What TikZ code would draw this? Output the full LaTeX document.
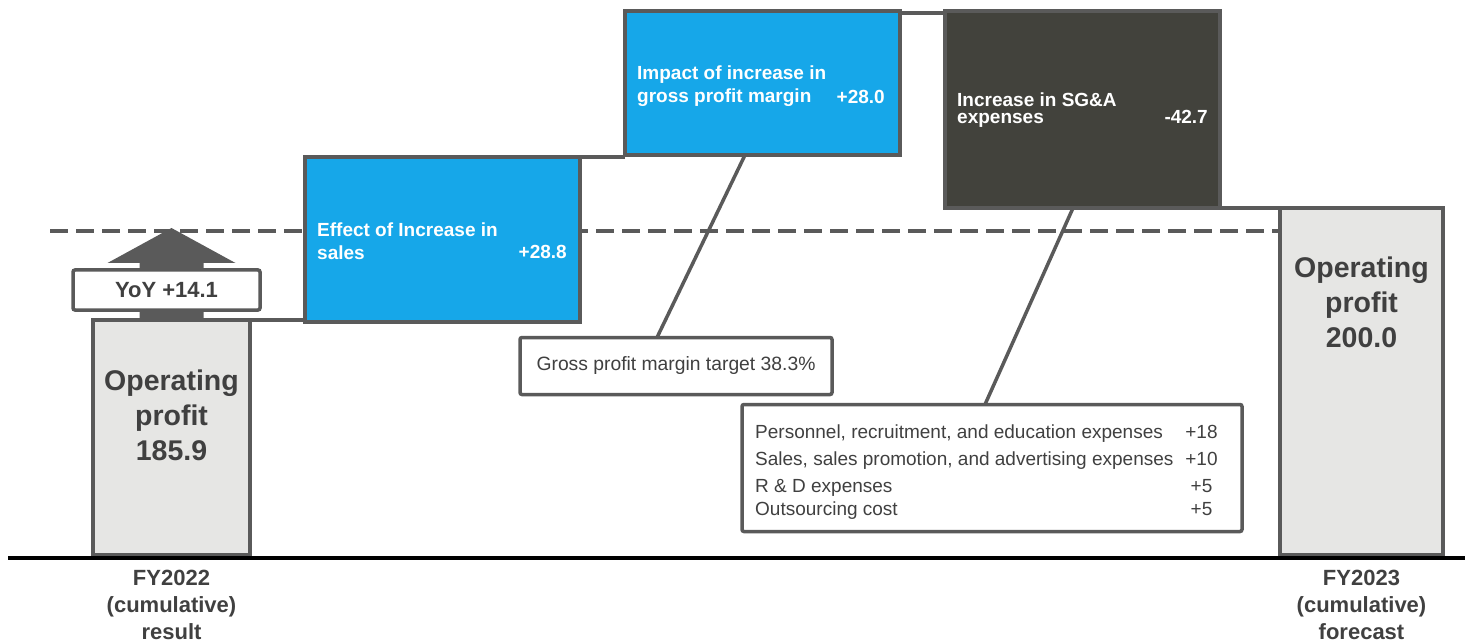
\documentclass[tikz,border=0pt]{standalone}
\usepackage{fontspec}
\setmainfont{Liberation Sans}
\usepackage{tikz}
\usetikzlibrary{calc}

\definecolor{frame}{HTML}{5A5A5A}
\definecolor{barfill}{HTML}{E6E6E4}
\definecolor{gainblue}{HTML}{16A7E9}
\definecolor{costgray}{HTML}{42423C}
\definecolor{ink}{HTML}{404040}

\begin{document}
\begin{tikzpicture}[
x=1pt, y=-1pt,
Total/.style={rectangle, draw=frame, fill=barfill, line width=4pt, inner sep=0pt, outer sep=0pt, anchor=north west},
Gain/.style={rectangle, draw=frame, fill=gainblue, line width=4pt, inner sep=0pt, outer sep=0pt, anchor=north west},
Cost/.style={rectangle, draw=frame, fill=costgray, line width=4pt, inner sep=0pt, outer sep=0pt, anchor=north west},
Note/.style={rectangle, rounded corners=2pt, draw=frame, fill=white, line width=3.5pt, inner sep=0pt, outer sep=0pt, text=ink},
Link/.style={draw=frame, line width=3.5pt},
BigTxt/.style={font=\fontsize{28.5}{35}\selectfont\bfseries, text=ink, align=center, inner sep=0pt},
AxisTxt/.style={font=\fontsize{22}{27}\selectfont\bfseries, text=ink, align=center, inner sep=0pt, anchor=north},
BoxTxt/.style={font=\fontsize{19}{23}\selectfont\bfseries, text=white, align=left, inner sep=0pt},
NoteTxt/.style={font=\fontsize{19}{27.5}\selectfont, text=ink, inner sep=0pt},
]
	\useasboundingbox (0,0) rectangle (1472,644);
	% target level
	\draw[frame, line width=4pt, dash pattern=on 18pt off 8pt] (50,231) -- (1280,231);

	\node[Total, minimum width=157pt, minimum height=235pt] (FY22) at (93,320) {};
	\node[Gain, minimum width=275pt, minimum height=165pt] (Sales) at (305,157) {};
	\node[Gain, minimum width=275pt, minimum height=144pt] (Margin) at (625,11) {};
	\node[Cost, minimum width=275pt, minimum height=197pt] (SGA) at (945,11) {};
	\node[Total, minimum width=163pt, minimum height=347pt] (FY23) at (1280,208) {};

	\draw[Link] (FY22.north east) -- (FY22.north east -| Sales.west);
	\draw[Link] (Sales.north east) -- (Sales.north east -| Margin.west);
	\draw[Link] ($ (Margin.north east) + (0,2) $) -- ($ (SGA.north west) + (0,2) $);
	\draw[Link] (SGA.south east) -- (FY23.north west);

	% YoY arrow
	\fill[frame] ($ (FY22.north) + (-32,0) $) -- ++(0,-57) -- ++(-32,0)
		-- ($ (FY22.north) + (0,-92) $) -- ($ (FY22.north) + (64,-57) $)
		-- ++(-32,0) -- ($ (FY22.north) + (32,0) $) -- cycle;
	\node[
	Note, 
	minimum width=187pt, 
	minimum height=40pt, 
	font=\fontsize{22}{26}\selectfont\bfseries,
	] (YoY) 
	at ($ (FY22.north) + (-5,-30) $)
	{YoY +14.1};

	\node[BigTxt] (FY22txt) at ($ (FY22.north) + (0,95) $) {Operating\\profit\\185.9};
	\node[BigTxt] (FY23txt) at ($ (FY23.north) + (0,94) $) {Operating\\profit\\200.0};
	\node[AxisTxt] (FY22lbl) at ($ (FY22.south) + (0,15) $) {FY2022\\(cumulative)\\result};
	\node[AxisTxt] (FY23lbl) at ($ (FY23.south) + (0,15) $) {FY2023\\(cumulative)\\forecast};

	\node[BoxTxt, anchor=west] (SalesTxt) 
	at ($ (Sales.north west) + (12,84) $)
	{Effect of Increase in\\sales};
	\node[BoxTxt, anchor=base east] (SalesVal) 
	at ($ (Sales.north west) + (262,102) $)
	{+28.8};
	\node[BoxTxt, anchor=west] (MarginTxt) 
	at ($ (Margin.north west) + (12,75) $)
	{Impact of increase in\\gross profit margin};
	\node[BoxTxt, anchor=base east] (MarginVal) 
	at ($ (Margin.north west) + (260,93) $)
	{+28.0};
	\node[BoxTxt, anchor=west, font=\fontsize{19}{16.5}\selectfont\bfseries] (SGATxt) 
	at ($ (SGA.north west) + (12,99) $)
	{Increase in SG\&A\\expenses};
	\node[BoxTxt, anchor=base east, font=\fontsize{19}{16.5}\selectfont\bfseries] (SGAVal) 
	at ($ (SGA.north west) + (263,113) $)
	{-42.7};

	% callouts
	\node[
	Note, 
	minimum width=312pt, 
	minimum height=57pt, 
	font=\fontsize{19.3}{22}\selectfont,
	] (Target) 
	at (676,366)
	{\raisebox{-4pt}{Gross profit margin target 38.3\%}};
	\node[
	Note, 
	minimum width=500pt, 
	minimum height=127pt, 
	] (Items) 
	at (992,468)
	{};
	\node[NoteTxt, anchor=west] (ItemsTxt) 
	at ($ (Items.west) + (13,3.5) $)
	{\begin{tabular}{@{}l@{\hspace{12pt}}c@{}}
	Personnel, recruitment, and education expenses & +18\\
	Sales, sales promotion, and advertising expenses & +10\\[-1pt]
	R \& D expenses & +5\\[-4pt]
	Outsourcing cost & +5
	\end{tabular}};
	\draw[Link] ($ (Margin.south west) + (120,0) $) -- ($ (Target.north) + (-19,0) $);
	\draw[Link] ($ (SGA.south west) + (128,0) $) -- ($ (Items.north) + (-7,0) $);

	% axis
	\draw[black, line width=3.5pt] (8,558) -- (1465,558);
\end{tikzpicture}
\end{document}
